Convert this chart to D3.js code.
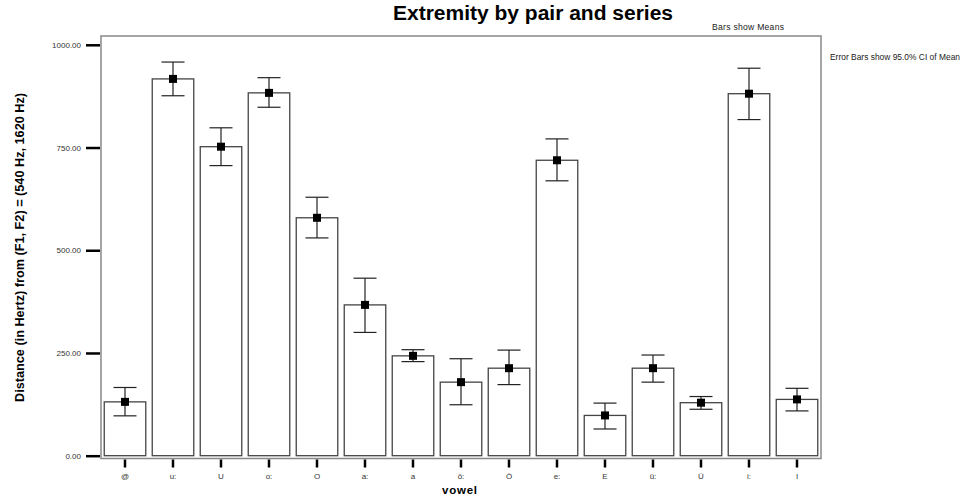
<!DOCTYPE html>
<html><head><meta charset="utf-8">
<script src="https://cdn.jsdelivr.net/npm/d3@7"></script>
<style>body{margin:0;background:#fff}svg{display:block;font-family:"Liberation Sans",Arial,sans-serif}</style>
</head><body><svg id="c" width="971" height="501"></svg>
<script>
const categories = ["@","u:","U","o:","O","a:","a","ö:","Ö","e:","E","ü:","Ü","i:","I"];
const means = [131,917,752,883,579,367,243,179,213,719,98,213,129,881,137];
const ciLow = [97,876,706,848,530,300,229,124,173,669,65,179,113,818,109];
const ciHigh = [166,958,798,920,629,432,258,236,257,771,128,245,144,943,164];
const yTicks = [0,250,500,750,1000];

const svg = d3.select("#c");
const L=101,R=821,T=36,B=458.5;
const x = d3.scaleBand().domain(categories).range([L,R]).paddingInner(0.135).paddingOuter(0.0675);
const y = d3.scaleLinear().domain([0,1000]).range([455.7,44.8]);

// frame
svg.append("rect").attr("x",L).attr("y",T).attr("width",R-L).attr("height",B-T)
  .attr("fill","none").attr("stroke","#888").attr("stroke-width",1.5);

// bars
svg.selectAll("rect.bar").data(means).join("rect").attr("class","bar")
  .attr("x",(d,i)=>x(categories[i])).attr("width",x.bandwidth())
  .attr("y",d=>y(d)).attr("height",d=>y(0)-y(d))
  .attr("fill","#fff").attr("stroke","#444").attr("stroke-width",1.3);

// error bars
const g = svg.append("g").attr("stroke","#222").attr("stroke-width",1.2);
categories.forEach((c,i)=>{
  const cx = x(c)+x.bandwidth()/2;
  g.append("line").attr("x1",cx).attr("x2",cx).attr("y1",y(ciHigh[i])).attr("y2",y(ciLow[i]));
  g.append("line").attr("x1",cx-11.5).attr("x2",cx+11.5).attr("y1",y(ciHigh[i])).attr("y2",y(ciHigh[i]));
  g.append("line").attr("x1",cx-11.5).attr("x2",cx+11.5).attr("y1",y(ciLow[i])).attr("y2",y(ciLow[i]));
});
svg.selectAll("rect.mk").data(means).join("rect").attr("class","mk")
  .attr("x",(d,i)=>x(categories[i])+x.bandwidth()/2-4).attr("y",d=>y(d)-4)
  .attr("width",8).attr("height",8).attr("fill","#000");

// y axis
const ya = svg.append("g").attr("transform",`translate(${L-1},0)`)
  .call(d3.axisLeft(y).tickValues(yTicks).tickFormat(d3.format(".2f")).tickSize(14).tickPadding(5));
ya.select(".domain").remove();
ya.selectAll(".tick line").attr("stroke","#000").attr("stroke-width",2.5);
ya.selectAll(".tick text").attr("font-size",8).attr("fill","#333").attr("font-family","Liberation Sans, Arial, sans-serif");

// x axis
const xa = svg.append("g").attr("transform",`translate(0,${B+1})`)
  .call(d3.axisBottom(x).tickSize(8).tickPadding(6));
xa.select(".domain").remove();
xa.selectAll(".tick line").attr("stroke","#000").attr("stroke-width",2.5);
xa.selectAll(".tick text").attr("font-size",8).attr("fill","#333").attr("font-family","Liberation Sans, Arial, sans-serif");

// titles
svg.append("text").attr("x",533).attr("y",20).attr("text-anchor","middle")
  .attr("font-size",20).attr("font-weight","bold").attr("textLength",280).attr("lengthAdjust","spacingAndGlyphs")
  .text("Extremity by pair and series");
svg.append("text").attr("x",459.5).attr("y",494).attr("text-anchor","middle")
  .attr("font-size",11.5).attr("font-weight","bold").attr("textLength",35).text("vowel");
svg.append("text").attr("transform","translate(24,247.5) rotate(-90)").attr("text-anchor","middle")
  .attr("font-size",12).attr("font-weight","bold").attr("textLength",309).attr("lengthAdjust","spacingAndGlyphs")
  .text("Distance (in Hertz) from (F1, F2) = (540 Hz, 1620 Hz)");
svg.append("text").attr("x",748).attr("y",30).attr("text-anchor","middle")
  .attr("font-size",8.6).attr("fill","#222").attr("textLength",72).text("Bars show Means");
svg.append("text").attr("x",830).attr("y",60)
  .attr("font-size",8.4).attr("fill","#222").attr("textLength",130).text("Error Bars show 95.0% CI of Mean");
</script></body></html>
